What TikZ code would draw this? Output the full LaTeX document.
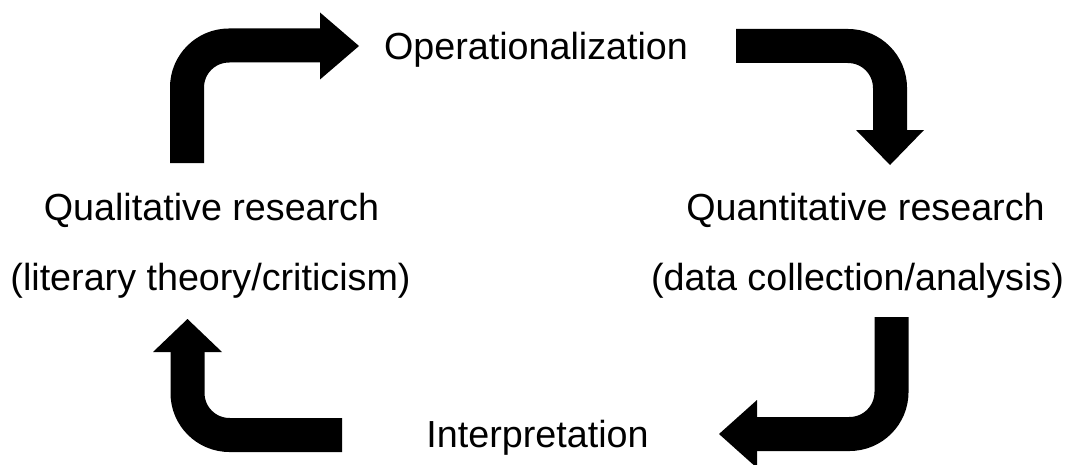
\documentclass[tikz,border=0pt]{standalone}
\usepackage{fontspec}
\setmainfont{Liberation Sans}
\usepackage{tikz}
\usetikzlibrary{calc,positioning}

\begin{document}
\begin{tikzpicture}[x=0.5pt,y=-0.5pt,
  balken/.style={line width=17pt,rounded corners=21pt},
  spitze/.style={fill=black},
  schrift/.style={anchor=base,inner sep=0pt,font=\fontsize{18.85}{22}\selectfont}]
%Bildgroesse in Pixeln des Originals
\useasboundingbox (0,0) rectangle (1069,465);
%Texte
\node[schrift] (oper) at (536,60) {Operationalization};
\node[schrift] (quali) at (211.5,220) {Qualitative research};
\node[schrift] (qualiB) at (210.5,290) {(literary theory/criticism)};
\node[schrift] (quanti) at (865.5,220) {Quantitative research};
\node[schrift] (quantiB) at (857.5,290) {(data collection/analysis)};
\node[schrift] (interp) at (537.5,447) {Interpretation};
%Pfeil links oben
\draw[balken] (187,163) -- (187,45.5) -- (321,45.5);
\fill[spitze] (320,12.5) -- (359,46) -- (320,79.5) -- cycle;
%Pfeil rechts oben
\draw[balken] (736,46) -- (890,46) -- (890,131);
\fill[spitze] (856,130) -- (924,130) -- (890,165) -- cycle;
%Pfeil rechts unten
\draw[balken] (891.5,317) -- (891.5,434) -- (756,434);
\fill[spitze] (757,400) -- (757,468) -- (719,434) -- cycle;
%Pfeil links unten
\draw[balken] (342,435) -- (187.5,435) -- (187.5,351);
\fill[spitze] (153,352) -- (222,352) -- (187.5,319) -- cycle;
\end{tikzpicture}
\end{document}
